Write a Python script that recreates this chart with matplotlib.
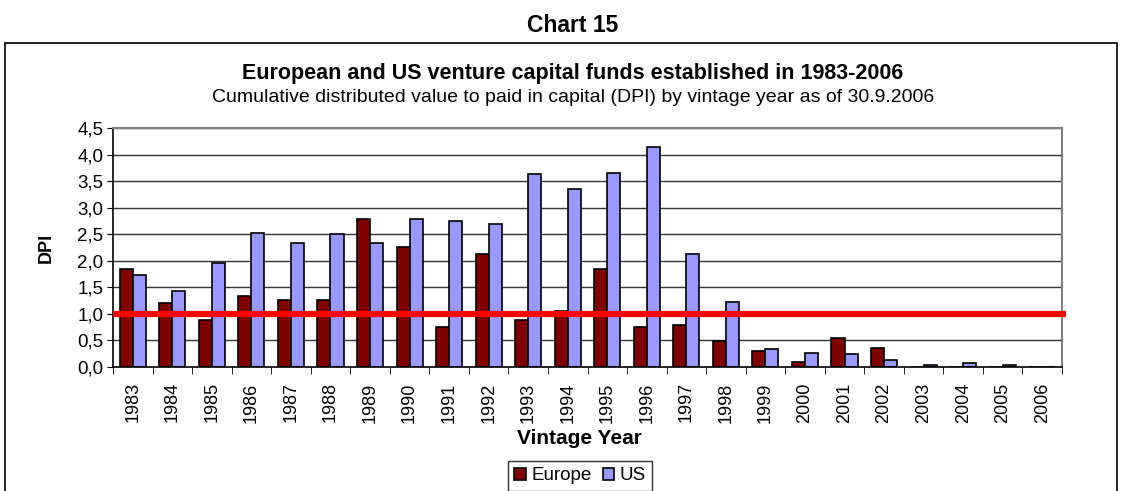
import matplotlib
matplotlib.use("Agg")
import matplotlib.pyplot as plt
import numpy as np
from matplotlib.patches import Rectangle

plt.rcParams['font.family'] = ['Liberation Sans', 'DejaVu Sans']

years = [str(y) for y in range(1983, 2007)]
europe = [1.85, 1.20, 0.89, 1.33, 1.26, 1.26, 2.78, 2.26, 0.75, 2.12, 0.89, 1.05,
          1.85, 0.75, 0.79, 0.49, 0.31, 0.10, 0.55, 0.35, 0.0, 0.0, 0.0, 0.0]
us = [1.74, 1.43, 1.95, 2.53, 2.33, 2.50, 2.33, 2.78, 2.74, 2.70, 3.63, 3.36,
      3.66, 4.15, 2.12, 1.23, 0.34, 0.27, 0.25, 0.14, 0.03, 0.07, 0.03, 0.0]
threshold = 1.0
yticks = [0, 0.5, 1.0, 1.5, 2.0, 2.5, 3.0, 3.5, 4.0, 4.5]
ytick_labels = ['0,0', '0,5', '1,0', '1,5', '2,0', '2,5', '3,0', '3,5', '4,0', '4,5']

W, H = 1124, 491
fig = plt.figure(figsize=(W / 100, H / 100), dpi=100)
ax = fig.add_axes([113 / W, 1 - 367 / H, (1062 - 113) / W, (367 - 128) / H])

# frame around chart
fig.patches.append(Rectangle((5 / W, -0.1), (1117 - 5) / W, 1 - 43 / H + 0.1,
                             transform=fig.transFigure, fill=False,
                             edgecolor='black', linewidth=1.2))

x = np.arange(len(years))
bw = 0.33
for yv in yticks[1:]:
    ax.axhline(yv, color='#333333', linewidth=1.0, zorder=0)
ax.bar(x - bw / 2, europe, bw, color='#800000', edgecolor='black', linewidth=1.2,
       label='Europe', zorder=2)
ax.bar(x + bw / 2, us, bw, color='#9999FF', edgecolor='black', linewidth=1.2,
       label='US', zorder=2)
ax.plot([-0.5, len(years) - 0.4], [threshold, threshold], color='#FF0000',
        linewidth=4.5, zorder=3, clip_on=False, solid_capstyle='butt')

ax.set_xlim(-0.5, len(years) - 0.5)
ax.set_ylim(0, 4.5)
ax.set_yticks(yticks)
ax.set_yticklabels(ytick_labels, fontsize=13.5)
ax.set_xticks(x)
ax.set_xticklabels(years, rotation=90, fontsize=13)
ax.tick_params(axis='x', which='major', length=0, pad=11)
ax.set_xticks(np.arange(-0.5, len(years), 1.0), minor=True)
ax.tick_params(axis='x', which='minor', length=5, direction='out', color='black')
ax.tick_params(axis='y', length=4, direction='out', color='black', pad=3)

for s in ['top', 'right']:
    ax.spines[s].set_color('#808080')
    ax.spines[s].set_linewidth(1.5)
ax.spines['left'].set_color('black')
ax.spines['bottom'].set_color('black')
ax.spines['left'].set_linewidth(1.2)
ax.spines['bottom'].set_linewidth(1.2)

fig.text(46 / W, 1 - 248 / H, 'DPI', rotation=90, ha='center', va='center',
         fontsize=13, fontweight='bold')
fig.text(579 / W, 1 - 438 / H, 'Vintage Year', ha='center', va='center',
         fontsize=15, fontweight='bold')

fig.text(573 / W, 1 - 25 / H, 'Chart 15', ha='center', va='center',
         fontsize=16.5, fontweight='bold')
fig.text(573 / W, 1 - 73 / H, 'European and US venture capital funds established in 1983-2006',
         ha='center', va='center', fontsize=15.5, fontweight='bold')
fig.text(573 / W, 1 - 97 / H,
         'Cumulative distributed value to paid in capital (DPI) by vintage year as of 30.9.2006',
         ha='center', va='center', fontsize=14)

leg = fig.legend(loc='center', bbox_to_anchor=(580 / W, 1 - 476 / H), ncol=2,
                 fontsize=13.5, frameon=True, fancybox=False, edgecolor='black',
                 handlelength=0.6, handleheight=0.6, handletextpad=0.3,
                 columnspacing=0.6, borderpad=0.35)
leg.get_frame().set_linewidth(1.0)

fig.savefig('out.png', dpi=100)
